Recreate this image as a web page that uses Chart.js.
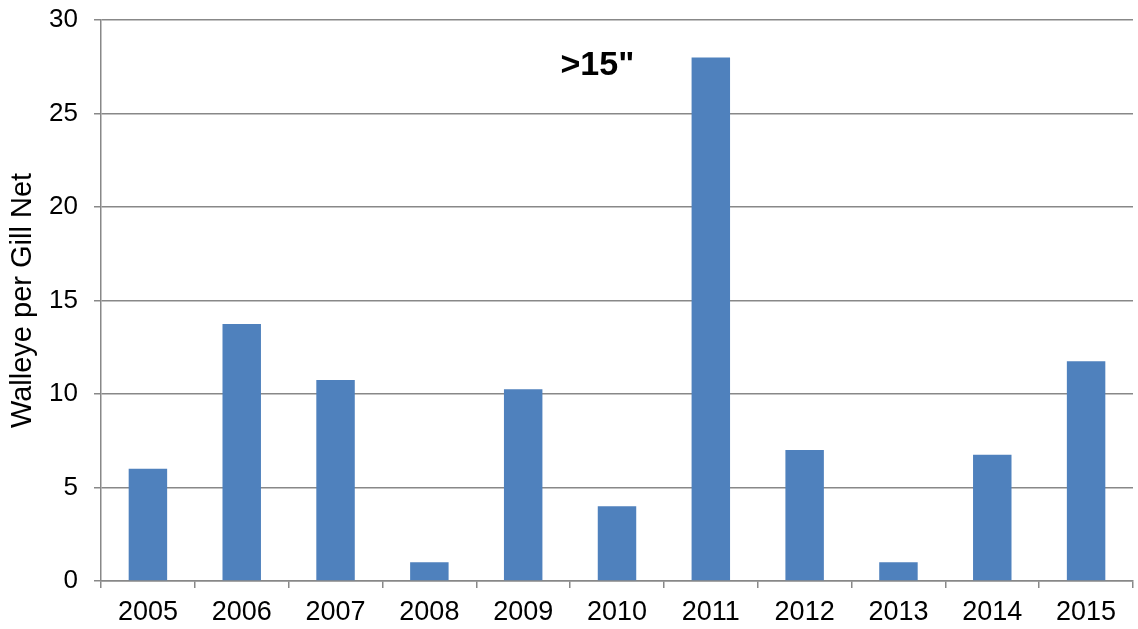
<!DOCTYPE html>
<html>
<head>
<meta charset="utf-8">
<script src="https://cdn.jsdelivr.net/npm/chart.js@4/dist/chart.umd.min.js"></script>
<style>
  html, body { margin: 0; padding: 0; background: #fff; }
  #wrap { width: 1138px; height: 629px; }
</style>
</head>
<body>
<div id="wrap"><canvas id="chart"></canvas></div>
<script>
const years = ["2005", "2006", "2007", "2008", "2009", "2010", "2011", "2012", "2013", "2014", "2015"];
const walleye = [6, 13.75, 10.75, 1, 10.25, 4, 28, 7, 1, 6.75, 11.75];
const yTicks = [0, 5, 10, 15, 20, 25, 30];
const panelLabel = '>15"';

const FONT = "'Liberation Sans', Arial, sans-serif";

// label drawn inside the plot area, like the original text box
const panelLabelPlugin = {
  id: "panelLabel",
  afterDraw(chart) {
    const { ctx, chartArea } = chart;
    ctx.save();
    ctx.font = "bold 34px " + FONT;
    ctx.fillStyle = "#000";
    ctx.textAlign = "center";
    ctx.textBaseline = "middle";
    const x = chartArea.left + (chartArea.right - chartArea.left) * 0.481;
    ctx.fillText(panelLabel, x, chartArea.top + 46);
    ctx.restore();
  },
};

const ctx = document.getElementById("chart").getContext("2d");
new Chart(ctx, {
  type: "bar",
  data: {
    labels: years,
    datasets: [
      {
        label: "Walleye per Gill Net",
        data: walleye,
        backgroundColor: "#4F81BD",
        borderWidth: 0,
        barPercentage: 0.41,
        categoryPercentage: 1,
      },
    ],
  },
  options: {
    responsive: true,
    maintainAspectRatio: false,
    animation: false,
    layout: { padding: { top: 20, right: 5, bottom: 0, left: 0 } },
    plugins: {
      legend: { display: false },
      tooltip: { enabled: false },
    },
    scales: {
      x: {
        offset: true,
        afterFit: (scale) => {
          scale.height = 48;
        },
        grid: {
          offset: true,
          drawOnChartArea: false,
          color: "#888888",
          lineWidth: 1.5,
          tickLength: 7,
        },
        border: { color: "#888888", width: 1.5 },
        ticks: {
          color: "#000",
          padding: 8,
          font: { family: FONT, size: 27 },
        },
      },
      y: {
        min: 0,
        max: 30,
        afterBuildTicks: (scale) => {
          scale.ticks = yTicks.map((v) => ({ value: v }));
        },
        afterFit: (scale) => {
          scale.width = 101;
          scale.paddingTop = 0;
          scale.paddingBottom = 0;
        },
        grid: { color: "#888888", lineWidth: 1.5, tickLength: 7 },
        border: { color: "#888888", width: 1.5 },
        ticks: {
          color: "#000",
          padding: 16,
          font: { family: FONT, size: 26 },
        },
        title: {
          display: true,
          text: "Walleye per Gill Net",
          color: "#000",
          padding: { top: 6, bottom: 0 },
          font: { family: FONT, size: 29 },
        },
      },
    },
  },
  plugins: [panelLabelPlugin],
});
</script>
</body>
</html>
